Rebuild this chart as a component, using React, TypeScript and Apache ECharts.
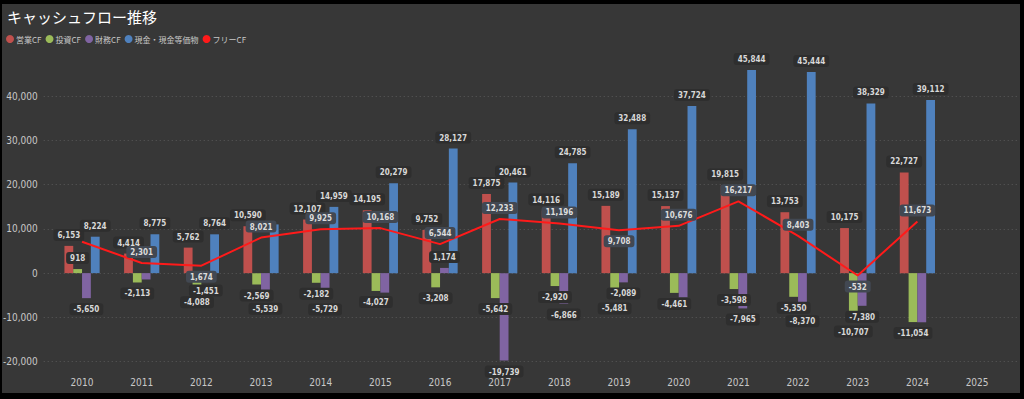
import React, { useEffect, useRef } from "react";
import * as echarts from "echarts";

const years = ["2010", "2011", "2012", "2013", "2014", "2015", "2016", "2017", "2018", "2019", "2020", "2021", "2022", "2023", "2024", "2025"];
const operatingCF = [6153, 4414, 5762, 10590, 12107, 14195, 9752, 17875, 14116, 15189, 15137, 19815, 13753, 10175, 22727, null];
const investingCF = [918, -2113, -4088, -2569, -2182, -4027, -3208, -5642, -2920, -5481, -4461, -3598, -5350, -10707, -11054, null];
const financingCF = [-5650, -1430, -1451, -5539, -5729, -4400, 1174, -19739, -6866, -2089, -5430, -7965, -8370, -7380, -11100, null];
const cashBalance = [8224, 8775, 8764, 11000, 14959, 20279, 28127, 20461, 24785, 32488, 37724, 45844, 45444, 38329, 39112, null];
const freeCF = [7071, 2301, 1674, 8021, 9925, 10168, 6544, 12233, 11196, 9708, 10676, 16217, 8403, -532, 11673, null];

const seriesNames = ["営業CF", "投資CF", "財務CF", "現金・現金等価物", "フリーCF"];
const colors = ["#c0504d", "#9bbb59", "#8064a2", "#4f81bd", "#ff1a1a"];
const yTicks = [-20000, -10000, 0, 10000, 20000, 30000, 40000];

// labels that the reference hides (overlapping)
const hiddenLabels: Record<string, string[]> = {
  "財務CF": ["2011", "2015", "2020", "2024"],
  "現金・現金等価物": ["2013"],
  "フリーCF": ["2010"],
};
const freeLabelBelow = ["2012", "2019", "2023"];

const numFont = '"Liberation Sans Narrow", "DejaVu Sans Condensed", Roboto, sans-serif';
const fmt = (v: number) => v.toLocaleString("en-US");

export default function App() {
  const ref = useRef<HTMLDivElement>(null);
  useEffect(() => {
    if (!ref.current) return;
    const chart = echarts.init(ref.current, undefined, { renderer: "svg" });

    const barLabelBase = {
      show: true,
      distance: 5,
      color: "#d8d8d8",
      fontSize: 8,
      fontWeight: "bold" as const,
      fontFamily: numFont,
      backgroundColor: "#2e2e2e",
      borderRadius: 3,
      padding: [2, 4, 1, 4],
      lineHeight: 9,
      formatter: (p: any) => fmt(p.value),
    };

    const makeBarData = (name: string, arr: (number | null)[]) =>
      arr.map((v, i) => {
        if (v === null) return null;
        const hidden = (hiddenLabels[name] || []).includes(years[i]);
        return {
          value: v,
          label: { show: !hidden, position: v >= 0 ? "top" : "bottom" },
        };
      });

    const barArrays = [operatingCF, investingCF, financingCF, cashBalance];
    const barSeries = barArrays.map((arr, k) => ({
      name: seriesNames[k],
      type: "bar",
      xAxisIndex: 1,
      yAxisIndex: 1,
      barGap: "0%",
      barCategoryGap: "41%",
      itemStyle: { color: colors[k] },
      label: barLabelBase,
      data: makeBarData(seriesNames[k], arr),
      emphasis: { disabled: true },
    }));

    const lineData = freeCF.map((v, i) => {
      if (v === null) return null;
      const hidden = (hiddenLabels["フリーCF"] || []).includes(years[i]);
      return {
        value: v,
        label: { show: !hidden, position: freeLabelBelow.includes(years[i]) ? "bottom" : "top" },
      };
    });

    const option: any = {
      animation: false,
      backgroundColor: "#000000",
      graphic: [
        {
          type: "rect",
          z: -100,
          shape: { x: 2, y: 4, width: 1018, height: 389 },
          style: { fill: "#373737" },
          silent: true,
        },
      ],
      title: {
        text: "キャッシュフロー推移",
        left: 7,
        top: 9,
        padding: 0,
        textStyle: { color: "#ffffff", fontSize: 15, fontWeight: "normal", fontFamily: '"Noto Sans CJK JP", sans-serif' },
      },
      legend: {
        left: 6,
        top: 35,
        padding: 0,
        icon: "circle",
        itemWidth: 8,
        itemHeight: 8,
        itemGap: 4,
        selectedMode: false,
        data: seriesNames,
        textStyle: { color: "#c8c8c8", fontSize: 8, fontFamily: '"Noto Sans CJK JP", sans-serif', padding: [0, 0, 0, -3] },
      },
      grid: [
        { left: 39, right: 7, top: 96, bottom: 37.3 },
        { left: 52.2, right: 17.1, top: 51.7, bottom: 37.3 },
      ],
      xAxis: [
        { type: "value", gridIndex: 0, show: false, min: 0, max: 1 },
        {
          type: "category",
          gridIndex: 1,
          data: years,
          axisLine: { show: false },
          axisTick: { show: false },
          axisLabel: { color: "#c8c8c8", fontSize: 10, margin: 16, fontFamily: numFont },
        },
      ],
      yAxis: [
        {
          type: "value",
          gridIndex: 0,
          min: yTicks[0],
          max: yTicks[yTicks.length - 1],
          interval: 10000,
          axisLine: { show: false },
          axisTick: { show: false },
          axisLabel: { color: "#c8c8c8", fontSize: 10, margin: 6, fontFamily: numFont, formatter: (v: number) => fmt(v) },
          splitLine: { show: true, lineStyle: { color: "#5a5a5a", type: [1, 3], width: 1 } },
        },
        {
          type: "value",
          gridIndex: 1,
          min: -20000,
          max: 50000,
          show: false,
          splitLine: { show: false },
        },
      ],
      series: [
        ...barSeries,
        {
          name: seriesNames[4],
          type: "line",
          xAxisIndex: 1,
          yAxisIndex: 1,
          data: lineData,
          symbol: "circle",
          symbolSize: 0.1,
          showSymbol: true,
          itemStyle: { color: colors[4] },
          lineStyle: { color: colors[4], width: 2 },
          z: 5,
          emphasis: { disabled: true },
          label: {
            show: true,
            distance: 5,
            color: "#dcdcdc",
            fontSize: 8,
            fontWeight: "bold",
            fontFamily: numFont,
            backgroundColor: "#424852",
            borderRadius: 3,
            padding: [2, 4, 1, 4],
            lineHeight: 9,
            formatter: (p: any) => fmt(p.value),
          },
        },
      ],
    };
    chart.setOption(option);
    return () => chart.dispose();
  }, []);

  return (
    <div style={{ position: "fixed", left: 0, top: 0, width: 1024, height: 399, background: "#000" }}>
      <div ref={ref} style={{ width: 1024, height: 399 }} />
    </div>
  );
}
